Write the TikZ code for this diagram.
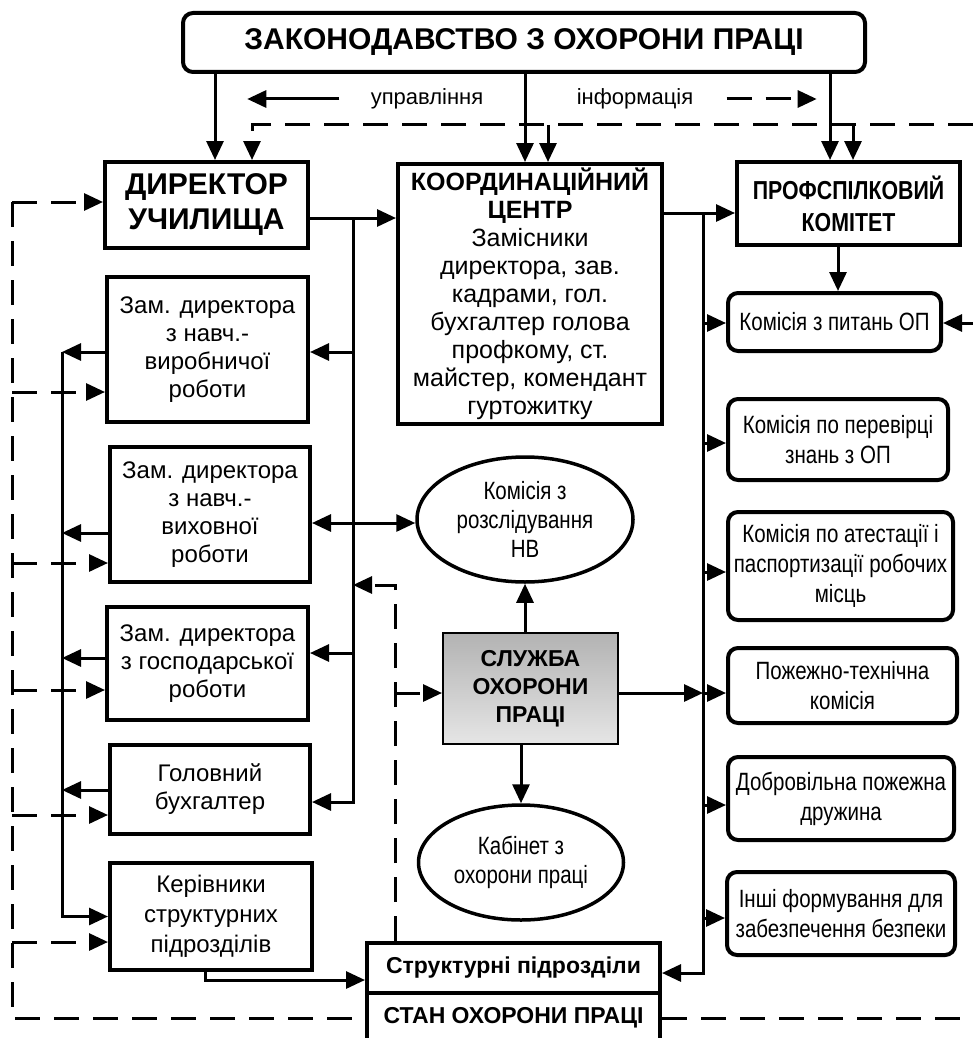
\documentclass[tikz,border=0pt]{standalone}
\usepackage{fontspec}
\setmainfont{Liberation Sans}
\newfontfamily\narrowfont[FakeStretch=0.82]{Liberation Sans}
\usetikzlibrary{arrows.meta,shapes.geometric}

\begin{document}
\begin{tikzpicture}[x=1pt,y=-1pt,line width=3pt,>={Triangle[length=19pt,width=17pt]}]
    \tikzstyle{box}=[draw,rectangle,line width=4pt,inner sep=0pt,align=center,font={\fontsize{24}{28}\selectfont}]
    \tikzstyle{head box}=[box,font={\bfseries\fontsize{30}{35}\selectfont}]
    \tikzstyle{commission}=[box,rounded corners=10pt,font={\narrowfont\fontsize{25}{30}\selectfont}]
    \tikzstyle{oval}=[draw,ellipse,line width=3.5pt,inner sep=0pt,align=center,font={\narrowfont\fontsize{25}{29}\selectfont}]
    \tikzstyle{legend}=[inner sep=0pt,font={\fontsize{22}{26}\selectfont}]
    \tikzstyle{info}=[dash pattern=on 25pt off 14pt]

    \useasboundingbox (0,0) rectangle (973,1038);
    \clip (0,0) rectangle (973,1038);

    % Draw the law box and the legend
    \node[box,rounded corners=10pt,minimum width=682pt,minimum height=59pt,
          font={\bfseries\fontsize{30}{34}\selectfont}] (law) at (524,42.5) {ЗАКОНОДАВСТВО З ОХОРОНИ ПРАЦІ};
    \node[legend] (ctl) at (427,99) {управління};
    \node[legend] (inf) at (635,99) {інформація};
    \draw[->] ([xshift=-30pt]ctl.west) -- ([xshift=-122pt]ctl.west);
    \draw[info,->] ([xshift=32pt]inf.east) -- ([xshift=122pt]inf.east);

    % Draw the top row
    \node[head box,minimum width=203pt,minimum height=86pt] (dir) at (206.5,205) {ДИРЕКТОР\\УЧИЛИЩА};
    \node[box,minimum width=264pt,minimum height=260pt,font={\fontsize{25}{28}\selectfont}] (coord) at (530,294)
        {\textbf{КООРДИНАЦІЙНИЙ}\\\textbf{ЦЕНТР}\\Замісники\\директора, зав.\\кадрами, гол.\\бухгалтер голова\\профкому, ст.\\майстер, комендант\\гуртожитку};
    \node[head box,minimum width=223pt,minimum height=83pt,
          font={\narrowfont\bfseries\fontsize{26}{32}\selectfont}] (prof) at (848.5,203.5) {ПРОФСПІЛКОВИЙ\\КОМІТЕТ};

    % Draw the deputies and the other left boxes
    \foreach \name/\x/\y/\w/\h/\txt in {1/207.5/349.5/201/145/{Зам. директора\\з навч.-\\виробничої\\роботи},
                                        2/210/514.5/200/135/{Зам. директора\\з навч.-\\виховної\\роботи},
                                        3/207.5/663.5/201/113/{Зам. директора\\з господарської\\роботи}}
        \node[box,minimum width=\w pt,minimum height=\h pt] (Z-\name) at (\x,\y) {\txt};
    \node[box,minimum width=200pt,minimum height=89pt] (buh) at (210,789.5) {Головний\\бухгалтер};
    \node[box,minimum width=202pt,minimum height=107pt,font={\fontsize{24}{30}\selectfont}] (heads) at (211,916.5)
        {Керівники\\структурних\\підрозділів};

    % Draw the middle column
    \node[oval,minimum width=216pt,minimum height=125pt] (inv) at (525,519.5) {Комісія з\\розслідування\\НВ};
    \node[box,line width=2pt,top color=black!30,bottom color=black!10,minimum width=175pt,minimum height=111pt,
          font={\bfseries\fontsize{23}{28}\selectfont}] (serv) at (530.5,688.5) {СЛУЖБА\\ОХОРОНИ\\ПРАЦІ};
    \node[oval,minimum width=205pt,minimum height=115pt] (cab) at (521,862.5) {Кабінет з\\охорони праці};
    \node[box,minimum width=293pt,minimum height=50pt,font={\bfseries\fontsize{23}{27}\selectfont}] (units) at (513.5,968)
        {Структурні підрозділи};
    \node[box,minimum width=293pt,minimum height=50pt,font={\bfseries\fontsize{23}{27}\selectfont}] (state) at (513.5,1018)
        {СТАН ОХОРОНИ ПРАЦІ};

    % Draw the commissions
    \foreach \name/\x/\y/\w/\h/\txt in {1/834.5/322/213/58/{Комісія з питань ОП},
                                        2/838/439.5/220/81/{Комісія по перевірці\\знань з ОП},
                                        3/840.5/566/225/108/{Комісія по атестації і\\паспортизації робочих\\місць},
                                        4/842.5/685.5/229/75/{Пожежно-технічна\\комісія},
                                        5/841/798.5/226/83/{Добровільна пожежна\\дружина},
                                        6/841/913.5/228/83/{Інші формування для\\забезпечення безпеки}}
        \node[commission,minimum width=\w pt,minimum height=\h pt] (K-\name) at (\x,\y) {\txt};

    % Control from the law
    \draw[->] ([xshift=8.5pt]dir.north |- law.south) -- ([xshift=8.5pt]dir.north);
    \draw[->] ([xshift=-5pt]coord.north |- law.south) -- ([xshift=-5pt]coord.north);
    \draw[->] ([xshift=-18.5pt]prof.north |- law.south) -- ([xshift=-18.5pt]prof.north);

    % Information back to the top
    \coordinate (I-r) at (973,125);
    \draw[info,->] (I-r) -| ([xshift=45.5pt]dir.north);
    \draw[info,->] ([xshift=18pt]coord.north |- I-r) -- ([xshift=18pt]coord.north);
    \draw[info,->] ([xshift=4.5pt]prof.north |- I-r) -- ([xshift=4.5pt]prof.north);

    % Middle bus from the director
    \coordinate (M-0) at (353,218);
    \draw[->] (M-0 -| dir.east) -- (M-0 -| coord.west);
    \draw[->] (M-0) |- ([yshift=-12.5pt]buh.east);
    \foreach \name/\y in {1/352,2/523,3/653}
    {
        \coordinate (M-\name) at (353,\y);
        \draw[->] (M-\name) -- (M-\name -| Z-\name.east);
    }
    \draw[->] (M-2) -- (M-2 -| inv.west);

    % Feedback from the structural units
    \coordinate (M-f) at (353,585);
    \coordinate (F-1) at (395,585);
    \coordinate (F-2) at (395,693);
    \draw[info,->] (F-1 |- units.north) |- (M-f);
    \draw[info,->] (F-2) -- (F-2 -| serv.west);

    % Left bus down to the heads of units
    \foreach \name/\y in {Z-1/352,Z-2/533,Z-3/658,buh/790}
    {
        \coordinate (L-\name) at (62,\y);
        \draw[->] (L-\name -| \name.west) -- (L-\name);
    }
    \draw[->] (L-Z-1) |- (heads.west);
    \draw[->] ([xshift=-6pt]heads.south) |- ([yshift=-12pt]units.west);

    % Dashed feedback on the left
    \foreach \name/\y in {dir/202,Z-1/392,Z-2/563,Z-3/690,buh/815,heads/942}
    {
        \coordinate (D-\name) at (12,\y);
        \draw[info,->] (D-\name) -- (D-\name -| \name.west);
    }
    \draw[info] (D-dir) |- (state.west);
    \draw[info] (state.east) -- (state.east -| I-r);

    % Right bus to the commissions
    \coordinate (R-0) at (703,213);
    \draw[->] (R-0 -| coord.east) -- (R-0 -| prof.west);
    \draw[->] (R-0) |- ([yshift=-5pt]units.east);
    \foreach \name/\y in {1/323,2/443,3/572,4/693,5/805,6/918}
    {
        \coordinate (R-\name) at (703,\y);
        \draw[->] (R-\name) -- (R-\name -| K-\name.west);
    }
    \draw[->] (R-4 -| serv.east) -- (R-4);
    \draw[->] ([xshift=-10.5pt]prof.south) -- ([xshift=-10.5pt]prof.south |- K-1.north);
    \coordinate (E-1) at (973,323);
    \draw[->] (E-1) -- (E-1 -| K-1.east);

    % Service to the commission and the office
    \draw[->] (serv.north -| inv.south) -- (inv.south);
    \draw[->] (serv.south -| cab.north) -- (cab.north);

\end{tikzpicture}
\end{document}
